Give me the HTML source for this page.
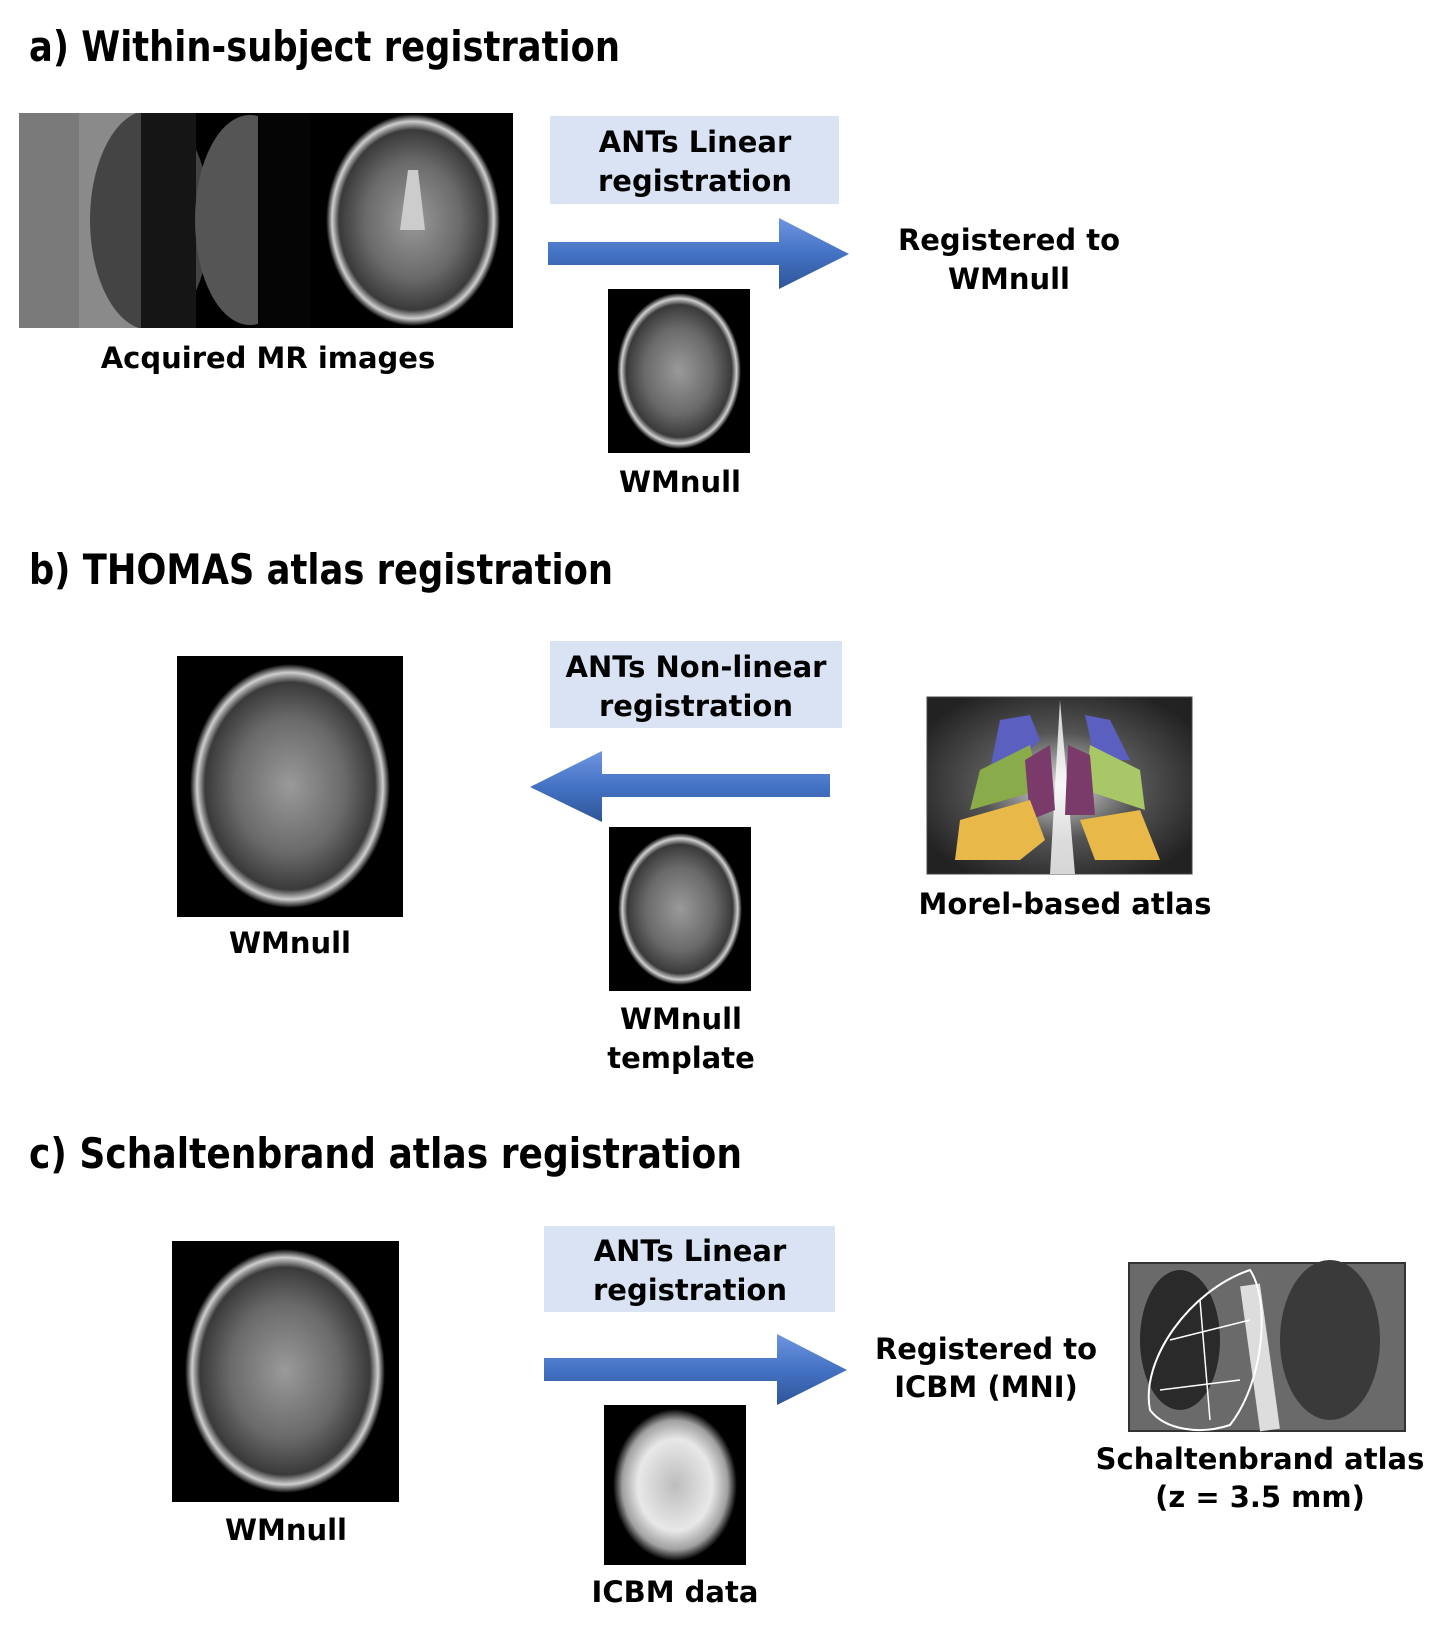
<!DOCTYPE html>
<html><head><meta charset="utf-8"><style>
html,body{margin:0;padding:0;background:#fff;}
body{width:1440px;height:1624px;overflow:hidden;}
</style></head><body>
<svg width="1440" height="1624" viewBox="0 0 1440 1624" xmlns="http://www.w3.org/2000/svg" font-family="'DejaVu Sans','Liberation Sans',sans-serif" font-weight="bold">
<defs>
<radialGradient id="brain" cx="50%" cy="50%" r="50%">
<stop offset="0" stop-color="#9a9a9a"/><stop offset="0.55" stop-color="#6a6a6a"/><stop offset="0.85" stop-color="#3a3a3a"/><stop offset="0.93" stop-color="#cfcfcf"/><stop offset="1" stop-color="#000"/>
</radialGradient>
<radialGradient id="brainW" cx="50%" cy="50%" r="50%">
<stop offset="0" stop-color="#bdbdbd"/><stop offset="0.6" stop-color="#e8e8e8"/><stop offset="0.85" stop-color="#a0a0a0"/><stop offset="1" stop-color="#000"/>
</radialGradient>
<linearGradient id="arr" x1="0" y1="0" x2="0" y2="1">
<stop offset="0" stop-color="#6f95e0"/><stop offset="0.5" stop-color="#4472c4"/><stop offset="1" stop-color="#2f5597"/>
</linearGradient>
<radialGradient id="thal" cx="50%" cy="50%" r="60%">
<stop offset="0" stop-color="#ddd"/><stop offset="0.5" stop-color="#555"/><stop offset="1" stop-color="#222"/>
</radialGradient>
<clipPath id="stack"><rect x="19" y="113" width="494" height="215"/></clipPath>
</defs>

<!-- Titles -->
<g font-size="42" fill="#000">
<text x="29" y="61" textLength="591" lengthAdjust="spacingAndGlyphs">a) Within-subject registration</text>
<text x="29" y="584" textLength="584" lengthAdjust="spacingAndGlyphs">b) THOMAS atlas registration</text>
<text x="29" y="1168" textLength="713" lengthAdjust="spacingAndGlyphs">c) Schaltenbrand atlas registration</text>
</g>

<!-- a) stack of images -->
<g clip-path="url(#stack)">
<rect x="19" y="113" width="494" height="215" fill="#000"/>
<rect x="19" y="113" width="60" height="215" fill="#7a7a7a"/>
<rect x="79" y="113" width="62" height="215" fill="#8a8a8a"/>
<ellipse cx="150" cy="220" rx="60" ry="110" fill="#444"/>
<rect x="141" y="113" width="55" height="215" fill="#151515"/>
<ellipse cx="250" cy="220" rx="55" ry="105" fill="#555"/>
<rect x="258" y="113" width="55" height="215" fill="#050505"/>
<rect x="310" y="113" width="203" height="215" fill="#000"/>
<ellipse cx="413" cy="220" rx="87" ry="106" fill="url(#brain)"/>
<path d="M408 170 L418 170 L425 230 L400 230 Z" fill="#ccc"/>
</g>

<!-- boxes -->
<g fill="#dae3f3">
<rect x="550" y="116" width="289" height="88"/>
<rect x="550" y="641" width="292" height="87"/>
<rect x="544" y="1226" width="291" height="86"/>
</g>
<g font-size="29" fill="#000" text-anchor="middle">
<text x="695" y="152">ANTs Linear</text>
<text x="695" y="191">registration</text>
<text x="696" y="677">ANTs Non-linear</text>
<text x="696" y="716">registration</text>
<text x="690" y="1261">ANTs Linear</text>
<text x="690" y="1300">registration</text>
</g>

<!-- arrows -->
<path d="M548 242 L779 242 L779 218 L849 254 L779 289 L779 265 L548 265 Z" fill="url(#arr)"/>
<path d="M830 774 L602 774 L602 751 L530 787 L602 822 L602 797 L830 797 Z" fill="url(#arr)"/>
<path d="M544 1358 L777 1358 L777 1334 L847 1370 L777 1405 L777 1381 L544 1381 Z" fill="url(#arr)"/>

<!-- brain images -->
<rect x="608" y="289" width="142" height="164" fill="#000"/>
<ellipse cx="679" cy="371" rx="62" ry="78" fill="url(#brain)"/>
<rect x="177" y="656" width="226" height="261" fill="#000"/>
<ellipse cx="290" cy="786" rx="100" ry="122" fill="url(#brain)"/>
<rect x="609" y="827" width="142" height="164" fill="#000"/>
<ellipse cx="680" cy="909" rx="62" ry="76" fill="url(#brain)"/>
<rect x="172" y="1241" width="227" height="261" fill="#000"/>
<ellipse cx="285" cy="1371" rx="100" ry="122" fill="url(#brain)"/>
<rect x="604" y="1405" width="142" height="160" fill="#000"/>
<ellipse cx="675" cy="1485" rx="62" ry="76" fill="url(#brainW)"/>

<!-- Morel atlas -->
<rect x="927" y="697" width="265" height="177" fill="url(#thal)" stroke="#444"/>
<path d="M1060 700 L1050 874 L1075 874 Z" fill="#fff" opacity="0.8"/>
<path d="M1000 720 L1030 715 L1040 740 L1020 760 L990 770 Z" fill="#5a5fc0"/>
<path d="M1085 715 L1110 720 L1130 760 L1095 760 Z" fill="#5a5fc0"/>
<path d="M980 770 L1030 745 L1040 790 L970 810 Z" fill="#8aab4a"/>
<path d="M1090 745 L1140 770 L1145 810 L1085 790 Z" fill="#a8c868"/>
<path d="M1025 760 L1050 745 L1055 810 L1030 820 Z" fill="#7a3a6a"/>
<path d="M1068 745 L1090 755 L1095 815 L1065 815 Z" fill="#7a3a6a"/>
<path d="M960 820 L1030 800 L1045 840 L1020 860 L955 860 Z" fill="#e8b848"/>
<path d="M1080 820 L1140 810 L1160 860 L1095 860 Z" fill="#e8b848"/>

<!-- Schaltenbrand -->
<rect x="1129" y="1263" width="276" height="168" fill="#6a6a6a" stroke="#333" stroke-width="2"/>
<ellipse cx="1180" cy="1340" rx="40" ry="70" fill="#2a2a2a"/>
<ellipse cx="1330" cy="1340" rx="50" ry="80" fill="#3a3a3a"/>
<path d="M1250 1285 L1270 1430" stroke="#ddd" stroke-width="20"/>
<path d="M1150 1410 C1140 1360 1190 1290 1250 1270 C1270 1300 1265 1380 1230 1425 C1200 1435 1165 1430 1150 1410 Z" fill="none" stroke="#fff" stroke-width="2"/>
<path d="M1170 1340 L1250 1320 M1160 1390 L1240 1380 M1200 1300 L1210 1420" stroke="#fff" stroke-width="1.5" fill="none"/>

<!-- labels -->
<g font-size="29" fill="#000" text-anchor="middle">
<text x="1009" y="250">Registered to</text>
<text x="1009" y="289">WMnull</text>
<text x="268" y="368">Acquired MR images</text>
<text x="680" y="492">WMnull</text>
<text x="290" y="953">WMnull</text>
<text x="681" y="1029">WMnull</text>
<text x="681" y="1068">template</text>
<text x="1065" y="914">Morel-based atlas</text>
<text x="986" y="1359">Registered to</text>
<text x="986" y="1397">ICBM (MNI)</text>
<text x="286" y="1540">WMnull</text>
<text x="675" y="1602">ICBM data</text>
<text x="1260" y="1469">Schaltenbrand atlas</text>
<text x="1260" y="1507">(z = 3.5 mm)</text>
</g>
</svg>
</body></html>
